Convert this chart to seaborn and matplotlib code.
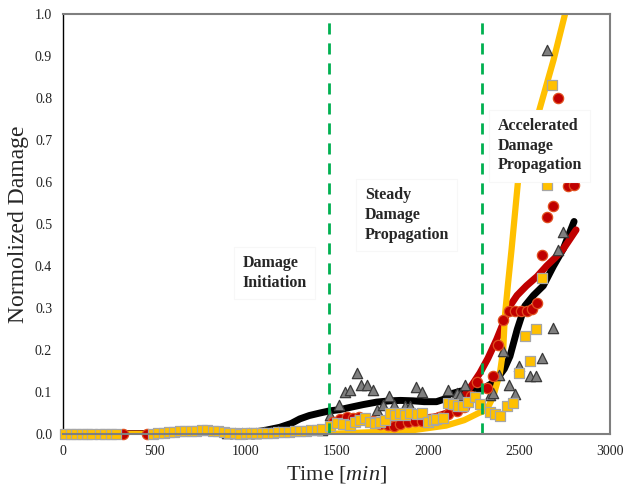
import numpy as np
import pandas as pd
import matplotlib
matplotlib.use("Agg")
import matplotlib.pyplot as plt
import seaborn as sns

# Damage curves (fits) - time [min], normalized damage
black_t = [0, 1000, 1100, 1188, 1250, 1298, 1350, 1408, 1460, 1517, 1580, 1645, 1720, 1792,
           1850, 1920, 1980, 2048, 2090, 2121, 2180, 2249, 2300, 2323, 2350, 2378, 2420, 2451,
           2491, 2533, 2580, 2634, 2690, 2743, 2803]
black_d = [0, 0.002, 0.008, 0.016, 0.025, 0.036, 0.044, 0.05, 0.055, 0.058, 0.064, 0.07, 0.076,
           0.079, 0.08, 0.079, 0.077, 0.077, 0.083, 0.095, 0.102, 0.105, 0.108, 0.113, 0.12, 0.13,
           0.155, 0.185, 0.249, 0.305, 0.33, 0.353, 0.4, 0.44, 0.506]

red_t = [0, 1300, 1400, 1450, 1500, 1600, 1700, 1800, 1900, 2000, 2050, 2103, 2150, 2194, 2240,
         2286, 2330, 2378, 2420, 2451, 2490, 2542, 2600, 2652, 2700, 2743, 2814]
red_d = [0, 0, 0.008, 0.015, 0.024, 0.03, 0.032, 0.033, 0.034, 0.038, 0.042, 0.05, 0.065, 0.089,
         0.115, 0.145, 0.18, 0.225, 0.27, 0.305, 0.33, 0.353, 0.375, 0.4, 0.42, 0.44, 0.486]

yellow_t = [0, 1500, 1900, 2100, 2200, 2280, 2323, 2359, 2396, 2414, 2423, 2441, 2460, 2496,
            2560, 2616, 2690, 2765]
yellow_d = [0, 0.001, 0.008, 0.02, 0.033, 0.05, 0.057, 0.089, 0.145, 0.2, 0.28, 0.36, 0.44,
            0.605, 0.69, 0.777, 0.89, 1.02]

# Measured points
tri_t = [900, 940, 980, 1020, 1060, 1100, 1140, 1180, 1420, 1462, 1514, 1545, 1576, 1609, 1631,
         1664, 1697, 1720, 1755, 1786, 1814, 1874, 1905, 1935, 1966, 2112, 2158, 2176, 2204,
         2260, 2341, 2359, 2392, 2411, 2445, 2478, 2502, 2560, 2593, 2625, 2652, 2685, 2716, 2743]
tri_d = [0.002, 0.002, 0.002, 0.003, 0.003, 0.004, 0.005, 0.006, 0.01, 0.045, 0.069, 0.1, 0.105,
         0.145, 0.117, 0.116, 0.104, 0.057, 0.069, 0.091, 0.069, 0.067, 0.067, 0.113, 0.101,
         0.105, 0.097, 0.093, 0.117, 0.09, 0.093, 0.097, 0.141, 0.197, 0.117, 0.096, 0.161,
         0.139, 0.139, 0.181, 0.915, 0.253, 0.437, 0.48]

circ_t = [328, 460, 1480, 1520, 1555, 1590, 1625, 1660, 1700, 1740, 1780, 1815, 1850, 1890, 1930,
          1970, 2010, 2060, 2110, 2160, 2200, 2240, 2268, 2326, 2359, 2386, 2411, 2447, 2478,
          2509, 2542, 2570, 2597, 2625, 2656, 2685, 2716, 2771, 2802]
circ_d = [0, 0, 0.028, 0.035, 0.04, 0.038, 0.04, 0.035, 0.03, 0.025, 0.022, 0.02, 0.025, 0.028,
          0.03, 0.032, 0.035, 0.04, 0.048, 0.055, 0.065, 0.09, 0.125, 0.109, 0.139, 0.213, 0.272,
          0.293, 0.293, 0.293, 0.293, 0.297, 0.313, 0.427, 0.517, 0.543, 0.8, 0.59, 0.592]

sq_t = [10, 40, 70, 100, 130, 160, 200, 230, 260, 290, 490, 520, 550, 580, 610, 640, 670, 700,
        730, 760, 790, 820, 850, 880, 910, 940, 970, 1000, 1030, 1060, 1090, 1120, 1150, 1180,
        1210, 1240, 1270, 1300, 1330, 1360, 1390, 1420, 1462, 1500, 1536, 1573, 1600, 1628,
        1655, 1683, 1710, 1738, 1765, 1793, 1820, 1848, 1875, 1903, 1939, 1966, 2003, 2030,
        2048, 2085, 2112, 2139, 2167, 2194, 2222, 2258, 2286, 2341, 2368, 2396, 2436, 2470,
        2502, 2533, 2560, 2593, 2625, 2656, 2683]
sq_d = [0, 0, 0, 0, 0, 0, 0, 0, 0, 0, 0, 0.002, 0.003, 0.004, 0.005, 0.006, 0.007, 0.008, 0.008,
        0.009, 0.01, 0.008, 0.006, 0.005, 0.003, 0.002, 0.001, 0.002, 0.002, 0.002, 0.002, 0.003,
        0.003, 0.004, 0.004, 0.005, 0.006, 0.007, 0.008, 0.009, 0.01, 0.012, 0.02, 0.027, 0.025,
        0.022, 0.029, 0.033, 0.037, 0.029, 0.027, 0.029, 0.033, 0.051, 0.045, 0.049, 0.045,
        0.049, 0.047, 0.049, 0.029, 0.033, 0.035, 0.037, 0.073, 0.072, 0.067, 0.067, 0.077,
        0.087, 0.071, 0.053, 0.047, 0.042, 0.067, 0.075, 0.145, 0.233, 0.173, 0.249, 0.371,
        0.592, 0.83]

stage_bounds = [1457, 2295]

sns.set_style("white")
plt.rcParams['font.family'] = ['Liberation Serif', 'DejaVu Serif']
plt.rcParams['mathtext.fontset'] = 'custom'
plt.rcParams['mathtext.rm'] = 'Liberation Serif'
plt.rcParams['mathtext.it'] = 'Liberation Serif:italic'

fig = plt.figure(figsize=(6.23, 4.87), dpi=100)
ax = fig.add_axes([0.1016, 0.1088, 0.8775, 0.8625])

sns.lineplot(x=black_t, y=black_d, color='black', linewidth=5, sort=False,
             estimator=None, ax=ax, zorder=2)
sns.lineplot(x=red_t, y=red_d, color='#C00000', linewidth=5, sort=False,
             estimator=None, ax=ax, zorder=3)
sns.lineplot(x=yellow_t, y=yellow_d, color='#FFC000', linewidth=4.5, sort=False,
             estimator=None, ax=ax, zorder=4)

sns.scatterplot(x=tri_t, y=tri_d, marker='^', s=55, color='#7F7F7F', edgecolor='#3A3A3A',
                linewidth=0.9, ax=ax, zorder=5, clip_on=False)
sns.scatterplot(x=circ_t, y=circ_d, marker='o', s=55, color='#C00000', edgecolor='#E05020',
                linewidth=0.9, ax=ax, zorder=6, clip_on=False)
sns.scatterplot(x=sq_t, y=sq_d, marker='s', s=50, color='#FFC000', edgecolor='#A6A6A6',
                linewidth=0.9, ax=ax, zorder=7, clip_on=False)

for xb in stage_bounds:
    ax.plot([xb, xb], [0.0, 1.0], color='#00B050', linewidth=2.0, dashes=(4, 3.2), zorder=8)

box = dict(facecolor='white', edgecolor='#F7F7F7', linewidth=0.8, pad=6)
txt = dict(fontsize=11.5, fontweight='bold', va='top', ha='left', linespacing=1.3, zorder=9)
ax.text(983, 0.425, "Damage\nInitiation", bbox=box, **txt)
ax.text(1654, 0.587, "Steady\nDamage\nPropagation", bbox=box, **txt)
ax.text(2384, 0.752, "Accelerated\nDamage\nPropagation", bbox=box, **txt)

ax.set_xlim(0, 3000)
ax.set_ylim(0, 1.0)
ax.set_xticks([0, 500, 1000, 1500, 2000, 2500, 3000])
ax.set_yticks([i / 10 for i in range(11)])
ax.set_yticklabels([f"{i / 10:.1f}" for i in range(11)])
ax.tick_params(length=0, labelsize=10, labelcolor='#222222', pad=8)

ax.set_xlabel(r"Time $\mathit{[min]}$", fontsize=16, labelpad=4)
ax.set_ylabel("Normolized Damage", fontsize=17, labelpad=4)

for side in ['top', 'right', 'bottom']:
    ax.spines[side].set_color('#7F7F7F')
    ax.spines[side].set_linewidth(1.5)
    ax.spines[side].set_zorder(10)
ax.spines['left'].set_color('black')
ax.spines['left'].set_linewidth(1.0)

fig.savefig("out.png", dpi=100)
